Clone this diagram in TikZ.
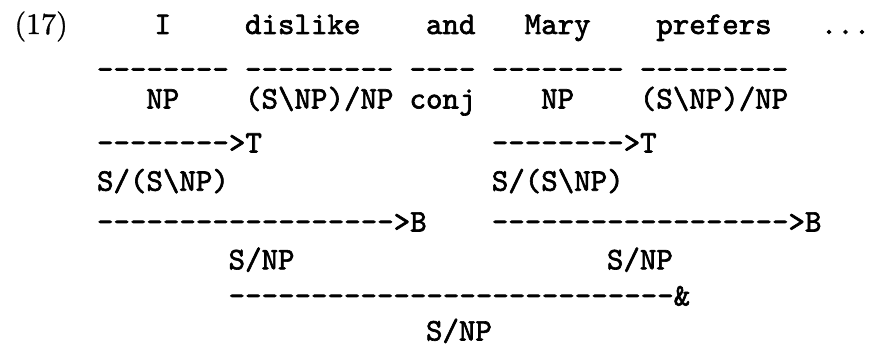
\documentclass[tikz,border=0pt]{standalone}
\usepackage{fontspec}
\newfontfamily\ttbold{lmmono10-regular.otf}[FakeBold=2]
\newfontfamily\rmbold{lmroman10-regular.otf}[FakeBold=1]
\begin{document}
\begin{tikzpicture}[x=16.45pt, y=-1pt,
  tok/.style={anchor=base west, inner sep=0pt, outer sep=0pt,
    font=\fontsize{31.4}{36}\selectfont\ttbold},
  num/.style={anchor=base west, inner sep=0pt, outer sep=0pt,
    font=\fontsize{30}{36}\selectfont\rmbold}]
\def\o{5.8967}
\fill[white] (0,0) rectangle (52.827,347);
\useasboundingbox (0,0) rectangle (52.827,347);
% row 1: words
\node[num] (ex) at (0.88,34) {(17)};
\node[tok] (w1) at (\o+3.5,34) {I};
\node[tok] (w2) at (\o+9,34) {dislike};
\node[tok] (w3) at (\o+20,34) {and};
\node[tok] (w4) at (\o+26,34) {Mary};
\node[tok] (w5) at (\o+34,34) {prefers};
\node[tok] (w6) at (\o+44,34) {...};
% row 2: lexical lines
\node[tok] (l1) at (\o+0,79) {--------};
\node[tok] (l2) at (\o+9,79) {---------};
\node[tok] (l3) at (\o+19,79) {----};
\node[tok] (l4) at (\o+24,79) {--------};
\node[tok] (l5) at (\o+33,79) {---------};
% row 3: categories
\node[tok] (c1) at (\o+3,108.5) {NP};
\node[tok] (c2) at (\o+9,108.5) {(S\textbackslash NP)/NP};
\node[tok] (c3) at (\o+19,108.5) {conj};
\node[tok] (c4) at (\o+27,108.5) {NP};
\node[tok] (c5) at (\o+33,108.5) {(S\textbackslash NP)/NP};
% row 4: type raising
\node[tok] (t1) at (\o+0,152.5) {-------->T};
\node[tok] (t2) at (\o+24,152.5) {-------->T};
% row 5
\node[tok] (r1) at (\o+0,190.7) {S/(S\textbackslash NP)};
\node[tok] (r2) at (\o+24,190.7) {S/(S\textbackslash NP)};
% row 6: composition
\node[tok] (b1) at (\o+0,231.5) {------------------>B};
\node[tok] (b2) at (\o+24,231.5) {------------------>B};
% row 7
\node[tok] (s1) at (\o+8,269.3) {S/NP};
\node[tok] (s2) at (\o+31,269.3) {S/NP};
% row 8: coordination
\node[tok] (co) at (\o+8,305.5) {---------------------------\&};
% row 9
\node[tok] (res) at (\o+20,340.5) {S/NP};
\end{tikzpicture}
\end{document}
